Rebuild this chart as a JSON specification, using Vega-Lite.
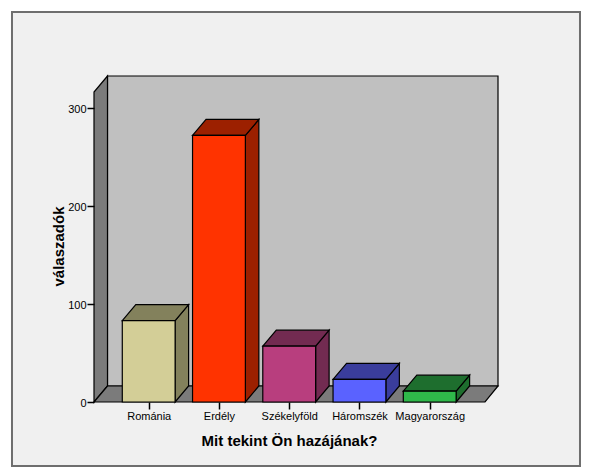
{
  "$schema": "https://vega.github.io/schema/vega-lite/v6.json",
  "width": 404,
  "height": 326,
  "autosize": {"type": "none"},
  "padding": {"left": 94, "top": 76, "right": 94, "bottom": 73},
  "background": "#ffffff",
  "config": {"view": {"stroke": null}, "font": "Liberation Sans"},
  "datasets": {
    "regions": [
      {"region": "Románia", "value": 83},
      {"region": "Erdély", "value": 272},
      {"region": "Székelyföld", "value": 57},
      {"region": "Háromszék", "value": 23},
      {"region": "Magyarország", "value": 11}
    ]
  },
  "layer": [
    {
      "data": {"values": [{"x": -0.946, "x2": 7.139, "y": 398, "y2": -65.3}]},
      "mark": {"type": "rect", "fill": "#f0f0f0", "stroke": "#6e6e6e", "strokeWidth": 2},
      "encoding": {
        "x": {
          "field": "x", "type": "quantitative",
          "scale": {"domain": [0.2214, 5.972], "nice": false, "zero": false},
          "axis": {
            "values": [1, 2, 3, 4, 5],
            "labelExpr": "['Románia','Erdély','Székelyföld','Háromszék','Magyarország'][datum.value-1]",
            "title": "Mit tekint Ön hazájának?",
            "titleFont": "Liberation Sans", "titleFontSize": 15, "titleFontWeight": "bold", "titleColor": "#000000",
            "titleX": 195, "titleY": 38, "titleBaseline": "middle", "titleAnchor": null, "titleAlign": "center",
            "domain": false, "grid": false, "tickSize": 7, "tickWidth": 1.5, "tickColor": "#000000",
            "labelFontSize": 11, "labelColor": "#000000", "labelPadding": 1, "labelOverlap": false, "labelFlush": false,
            "labelAngle": 0, "zindex": 1
          }
        },
        "x2": {"field": "x2"},
        "y": {
          "field": "y", "type": "quantitative",
          "scale": {"domain": [0, 332.65], "nice": false, "zero": false},
          "axis": {
            "values": [0, 100, 200, 300],
            "title": "válaszadók",
            "titleFont": "Liberation Sans", "titleFontSize": 15, "titleFontWeight": "bold", "titleColor": "#000000",
            "titleX": -36, "titleY": 170, "titleBaseline": "middle", "titleAlign": "center", "titleAngle": -90,
            "domain": false, "grid": false, "tickSize": 7, "tickWidth": 1.5, "tickColor": "#000000",
            "labelFontSize": 11, "labelColor": "#000000", "labelPadding": 1, "labelOffset": 1.5, "zindex": 1
          }
        },
        "y2": {"field": "y2"}
      }
    },
    {
      "data": {"values": [{"x": 0.4135, "x2": 5.972, "y": 16.33, "y2": 332.65}]},
      "mark": {"type": "rect", "fill": "#c0c0c0", "stroke": "#000000", "strokeWidth": 1.2},
      "encoding": {
        "x": {"field": "x", "type": "quantitative"},
        "x2": {"field": "x2"},
        "y": {"field": "y", "type": "quantitative"},
        "y2": {"field": "y2"}
      }
    },
    {
      "data": {"values": [
        {"x": 0.2214, "y": 0, "y2": 316.3},
        {"x": 0.4135, "y": 16.33, "y2": 332.65}
      ]},
      "mark": {"type": "area", "fill": "#7b7b7b", "stroke": "#000000", "strokeWidth": 1.2},
      "encoding": {
        "x": {"field": "x", "type": "quantitative"},
        "y": {"field": "y", "type": "quantitative"},
        "y2": {"field": "y2"}
      }
    },
    {
      "data": {"values": [
        {"y": 0, "x": 0.2214, "x2": 5.787},
        {"y": 16.33, "x": 0.4135, "x2": 5.972}
      ]},
      "mark": {"type": "area", "orient": "horizontal", "fill": "#7b7b7b", "stroke": "#000000", "strokeWidth": 1.2},
      "encoding": {
        "y": {"field": "y", "type": "quantitative"},
        "x": {"field": "x", "type": "quantitative"},
        "x2": {"field": "x2"}
      }
    },
    {
      "data": {"name": "regions"},
      "transform": [
        {"window": [{"op": "row_number", "as": "i"}]},
        {"calculate": "[0,1]", "as": "t"},
        {"flatten": ["t"]},
        {"calculate": "datum.i+0.376+datum.t*0.192", "as": "sx"},
        {"calculate": "datum.t*16.33", "as": "sy"},
        {"calculate": "datum.value+datum.t*16.33", "as": "sy2"}
      ],
      "mark": {"type": "area", "stroke": "#000000", "strokeWidth": 1.2},
      "encoding": {
        "x": {"field": "sx", "type": "quantitative"},
        "y": {"field": "sy", "type": "quantitative"},
        "y2": {"field": "sy2"},
        "color": {
          "field": "region", "type": "nominal", "legend": null,
          "scale": {
            "domain": ["Románia", "Erdély", "Székelyföld", "Háromszék", "Magyarország"],
            "range": ["#83815c", "#9c2000", "#722b51", "#3a3d9c", "#1e6e2e"]
          }
        }
      }
    },
    {
      "data": {"name": "regions"},
      "transform": [
        {"window": [{"op": "row_number", "as": "i"}]},
        {"calculate": "[0,1]", "as": "t"},
        {"flatten": ["t"]},
        {"calculate": "datum.i-0.376+datum.t*0.192", "as": "tx"},
        {"calculate": "datum.i+0.376+datum.t*0.192", "as": "tx2"},
        {"calculate": "datum.value+datum.t*16.33", "as": "ty"}
      ],
      "mark": {"type": "area", "orient": "horizontal", "stroke": "#000000", "strokeWidth": 1.2},
      "encoding": {
        "y": {"field": "ty", "type": "quantitative"},
        "x": {"field": "tx", "type": "quantitative"},
        "x2": {"field": "tx2"},
        "color": {"field": "region", "type": "nominal", "legend": null}
      }
    },
    {
      "data": {"name": "regions"},
      "transform": [
        {"window": [{"op": "row_number", "as": "i"}]},
        {"calculate": "datum.i-0.376", "as": "fx"},
        {"calculate": "datum.i+0.376", "as": "fx2"}
      ],
      "mark": {"type": "rect", "stroke": "#000000", "strokeWidth": 1.2},
      "encoding": {
        "x": {"field": "fx", "type": "quantitative"},
        "x2": {"field": "fx2"},
        "y": {"field": "value", "type": "quantitative"},
        "y2": {"datum": 0},
        "fill": {
          "field": "region", "type": "nominal", "legend": null,
          "scale": {
            "domain": ["Románia", "Erdély", "Székelyföld", "Háromszék", "Magyarország"],
            "range": ["#d3ce97", "#ff3300", "#b83e7e", "#5a62ff", "#2fb84a"]
          }
        }
      }
    }
  ]
}
